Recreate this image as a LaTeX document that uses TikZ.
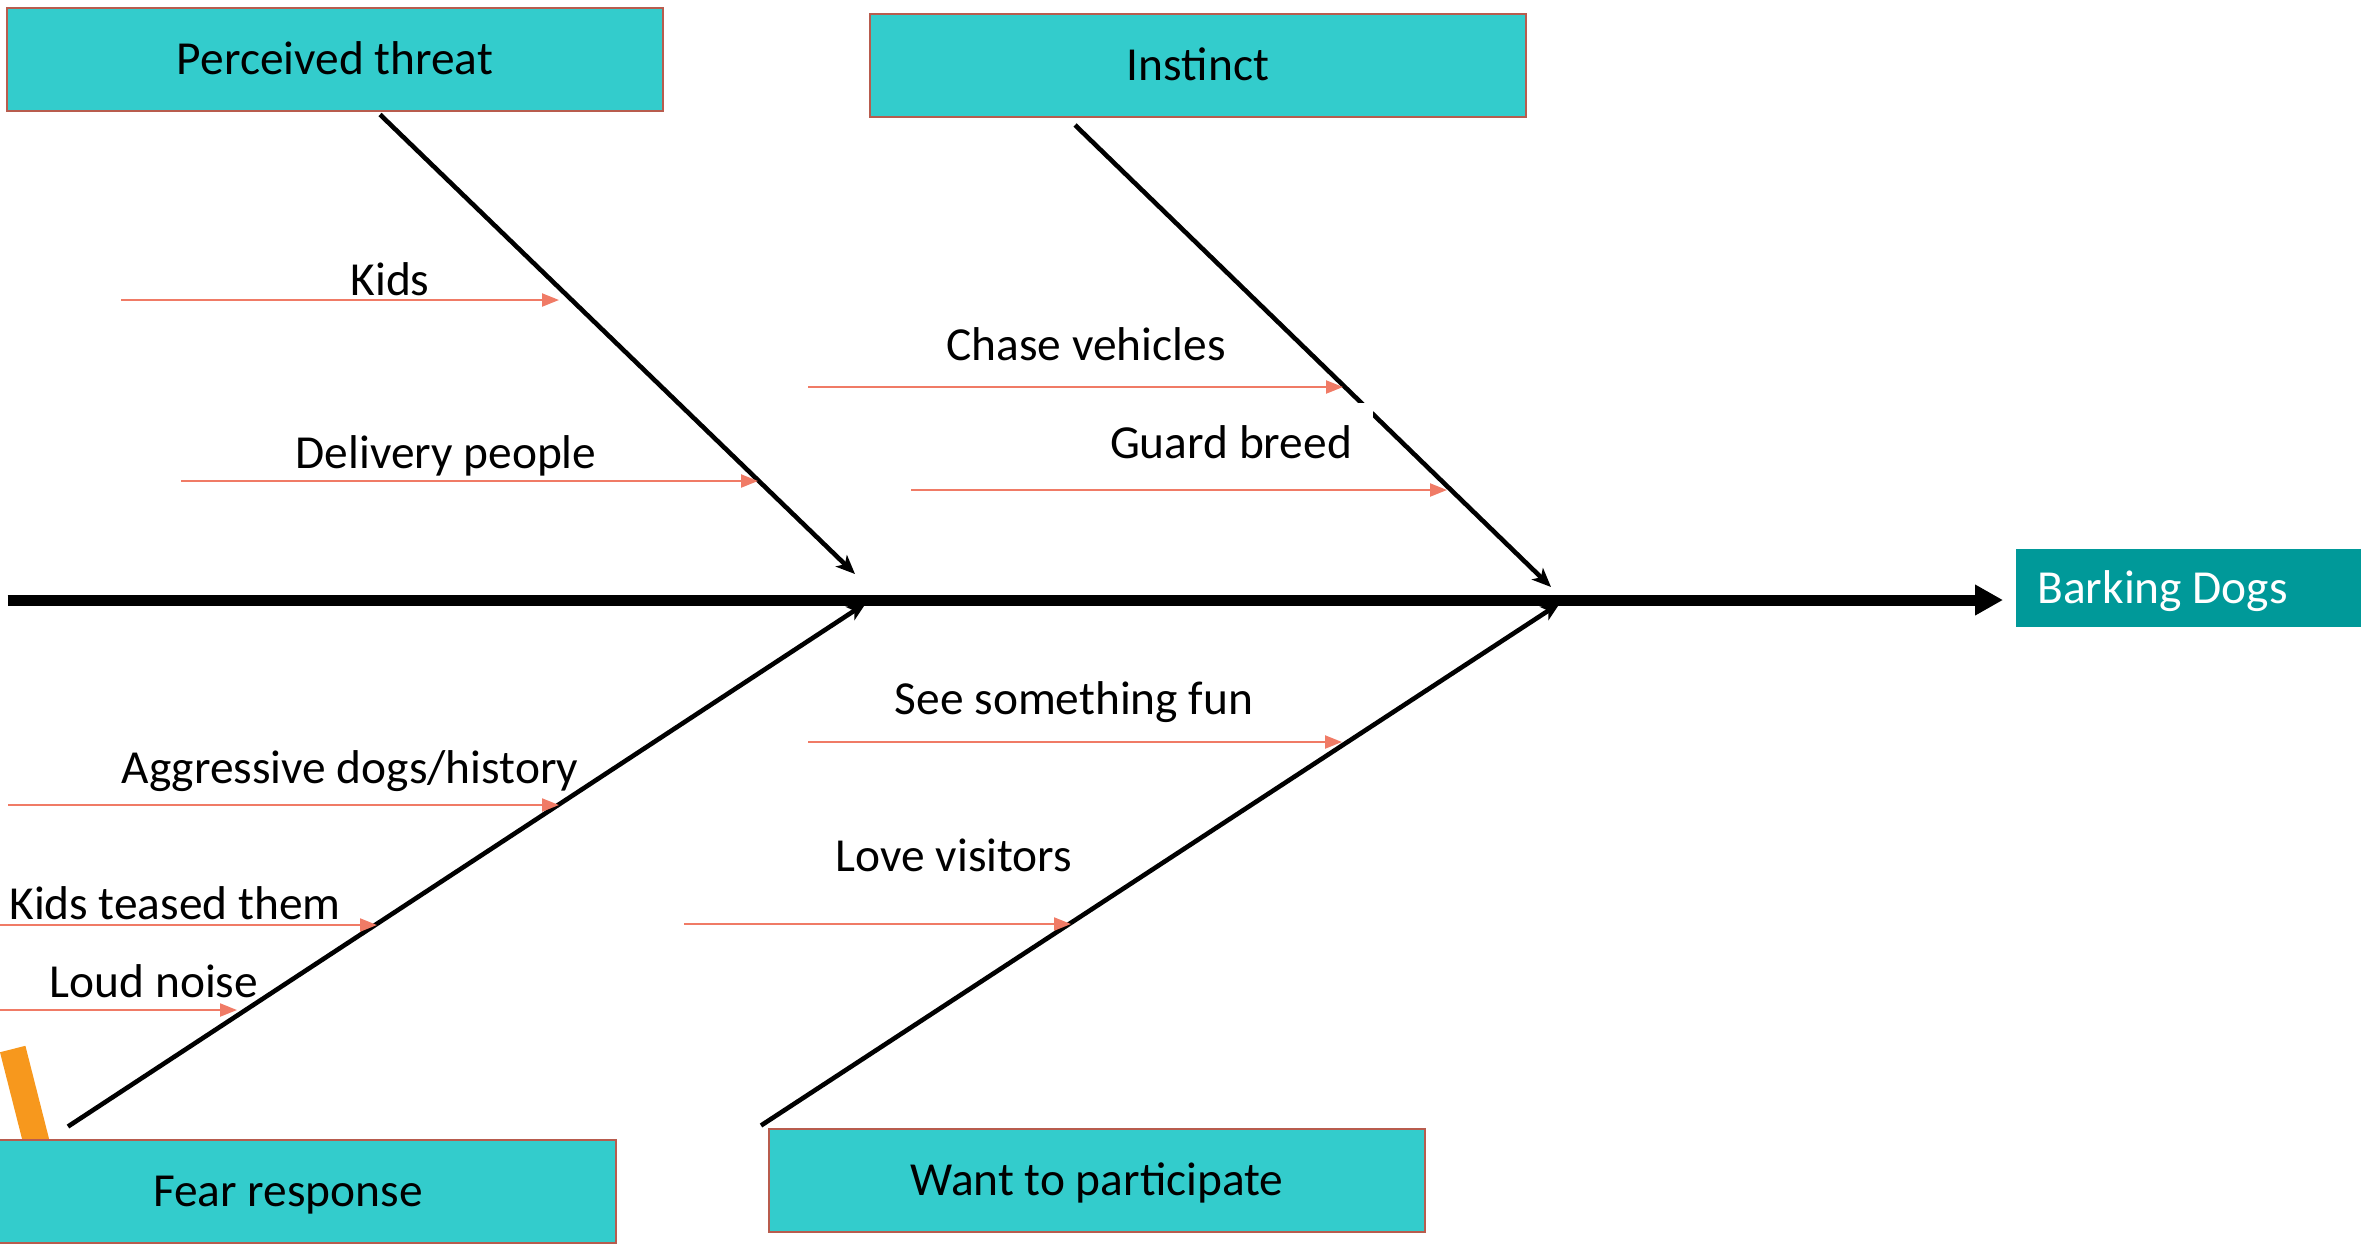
\documentclass[tikz,border=0pt]{standalone}
\usepackage{fontspec}
\setmainfont{Carlito}
\usetikzlibrary{arrows.meta}
\definecolor{boxfill}{HTML}{33CCCC}
\definecolor{boxline}{HTML}{B85C4E}
\definecolor{effectfill}{HTML}{009999}
\definecolor{salmonline}{HTML}{F07B66}
\definecolor{orangebar}{HTML}{F7981D}
\newcommand{\labfont}{\fontsize{23.7pt}{28pt}\selectfont}
\begin{document}
\begin{tikzpicture}[x=0.5pt,y=-0.5pt,
  catbox/.style={draw=boxline, line width=1pt, fill=boxfill, minimum width=328pt,
    minimum height=51.5pt, inner sep=0pt, text height=15.2pt, text depth=0pt, font=\labfont},
  effectbox/.style={fill=effectfill, text=white, anchor=west, minimum height=39pt,
    inner xsep=10.5pt, inner ysep=0pt, text height=15.2pt, text depth=0pt, font=\labfont},
  sublabel/.style={anchor=base, inner sep=0pt, font=\labfont},
  bone/.style={line width=2.3pt, -{Stealth[length=9.5pt,width=8pt,inset=2.5pt]}},
  spine/.style={line width=5.5pt, -{Triangle[length=14pt,width=14.5pt]}},
  subarrow/.style={draw=salmonline, line width=1.1pt, -{Triangle[length=8.5pt,width=6.5pt]}}
]
\useasboundingbox (0,0) rectangle (2364,1244);
\clip (0,0) rectangle (2364,1244);

% orange stroke behind the fear box
\draw[orangebar, line width=13.1pt] (12.7,1049) -- (60,1235);

% category boxes and effect
\node[catbox] (pt) at (335,59) {Perceived threat};
\node[catbox] (inst) at (1198,65.5) {Instinct};
\node[catbox] (fear) at (288,1191) {Fear response};
\node[catbox] (want) at (1097,1180) {Want to participate};
\node[effectbox] (bd) at (2016,588) {\makebox[151.5pt][l]{Barking Dogs}};

% spine
\coordinate (tail) at (7.5,600);
\draw[spine] (tail) -- ([xshift=-6.5pt]bd.west |- tail);

% bones
\coordinate (ptB) at (855,574);
\coordinate (instB) at (1551,587);
\coordinate (fearB) at (866,603);
\coordinate (wantB) at (1560,603);
\draw[bone] ([xshift=22.5pt,yshift=-1.5pt]pt.south) -- (ptB);
\draw[bone] ([xshift=-61.5pt,yshift=-3.5pt]inst.south) -- (instB);
\draw[bone] ([xshift=-110pt,yshift=6pt]fear.north) -- (fearB);
\draw[bone] ([xshift=-168pt,yshift=1pt]want.north) -- (wantB);
\fill[white] (1355,402.5) rectangle (1372.5,440);

% sub-cause arrows
\coordinate (kidsA) at (121,300);   \coordinate (kidsB) at (559,300);
\coordinate (delA) at (181,481);    \coordinate (delB) at (758,481);
\coordinate (chaseA) at (808,387);  \coordinate (chaseB) at (1343,387);
\coordinate (guardA) at (911,490);  \coordinate (guardB) at (1447,490);
\coordinate (funA) at (808,742);    \coordinate (funB) at (1342,742);
\coordinate (loveA) at (684,924);   \coordinate (loveB) at (1071,924);
\coordinate (aggA) at (8,805);      \coordinate (aggB) at (559,805);
\coordinate (teaseA) at (0,925);    \coordinate (teaseB) at (377,925);
\coordinate (loudA) at (0,1010);    \coordinate (loudB) at (237,1010);
\draw[subarrow] (kidsA) -- (kidsB);
\draw[subarrow] (delA) -- (delB);
\draw[subarrow] (chaseA) -- (chaseB);
\draw[subarrow] (guardA) -- (guardB);
\draw[subarrow] (funA) -- (funB);
\draw[subarrow] (loveA) -- (loveB);
\draw[subarrow] (aggA) -- (aggB);
\draw[subarrow] (teaseA) -- (teaseB);
\draw[subarrow] (loudA) -- (loudB);

% labels
\node[sublabel] (kids) at (390,295) {Kids};
\node[sublabel] (del) at (446,468) {Delivery people};
\node[sublabel] (chase) at (1086,360) {Chase vehicles};
\node[sublabel] (guard) at (1231,458) {Guard breed};
\node[sublabel] (fun) at (1074,714) {See something fun};
\node[sublabel] (love) at (954,871) {Love visitors};
\node[sublabel] (agg) at (350,783) {Aggressive dogs/history};
\node[sublabel] (tease) at (175,919) {Kids teased them};
\node[sublabel] (loud) at (154,997) {Loud noise};
\end{tikzpicture}
\end{document}
